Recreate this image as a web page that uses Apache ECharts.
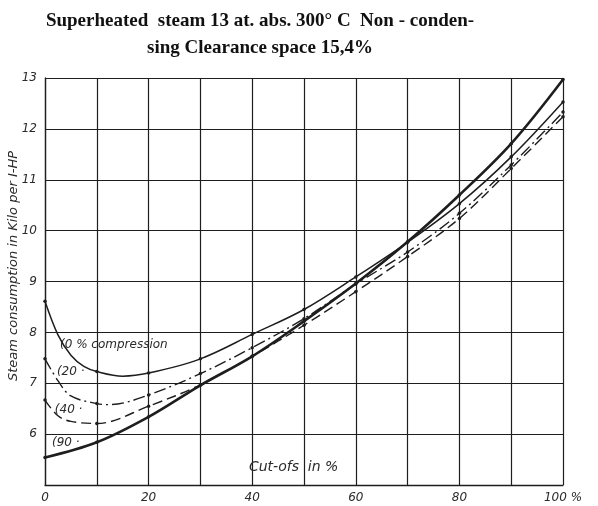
<!DOCTYPE html>
<html>
<head>
<meta charset="utf-8">
<script src="https://cdn.jsdelivr.net/npm/echarts@6/dist/echarts.min.js"></script>
<style>
  html, body { margin: 0; padding: 0; background: #ffffff; }
  #chart { width: 598px; height: 506px; }
</style>
</head>
<body>
<div id="chart"></div>
<script>
// Steam consumption (kg per indicated HP-hour) against cut-off, for four compression ratios
const comp0X  = [0, 2.5, 5, 7.5, 10, 15, 20, 30, 40, 50, 60, 70, 80, 90, 100];
const comp0Y  = [8.61, 7.95, 7.55, 7.33, 7.23, 7.14, 7.20, 7.48, 7.96, 8.45, 9.09, 9.77, 10.53, 11.45, 12.53];
const comp20X = [0, 2.5, 5, 10, 12.5, 20, 30, 40, 50, 60, 70, 80, 90, 100];
const comp20Y = [7.48, 7.05, 6.75, 6.60, 6.58, 6.77, 7.19, 7.70, 8.27, 8.95, 9.58, 10.34, 11.29, 12.33];
const comp40X = [0, 2.5, 5, 10, 20, 30, 40, 50, 60, 70, 80, 90, 100];
const comp40Y = [6.67, 6.36, 6.25, 6.21, 6.55, 6.97, 7.53, 8.14, 8.80, 9.49, 10.24, 11.22, 12.24];
const comp90X = [0, 10, 20, 30, 40, 50, 60, 70, 80, 90, 100];
const comp90Y = [5.54, 5.84, 6.34, 6.96, 7.53, 8.22, 8.96, 9.78, 10.70, 11.71, 12.97];

// Curve captions, anchored in data units
const captionText = ['(0 % compression', '(20 ·', '(40 ·', '(90 ·'];
const captionAt   = [[2.9, 7.75], [2.3, 7.22], [1.9, 6.47], [1.35, 5.83]];

const titleLines = ['Superheated  steam 13 at. abs. 300° C  Non - conden-', 'sing Clearance space 15,4%'];
const yAxisTitle = 'Steam consumption in Kilo per I-HP';
const xAxisTitle = 'Cut-ofs  in %';

const ink = '#1e1e1e';
const hand = { fontFamily: 'DejaVu Sans', fontStyle: 'italic', color: '#2a2a2a' };

function pairs(xs, ys) { return xs.map((x, i) => [x, ys[i]]); }
function dotSize(v) { return v[0] % 10 === 0 ? 3.5 : 0; }

const chart = echarts.init(document.getElementById('chart'));

function curve(name, xs, ys, width, type) {
  return {
    name, type: 'line', data: pairs(xs, ys), smooth: 0.35,
    symbol: 'circle', symbolSize: dotSize, showSymbol: true,
    itemStyle: { color: ink },
    lineStyle: { color: ink, width, type },
    silent: true, animation: false, z: 3
  };
}

chart.setOption({
  backgroundColor: '#ffffff',
  animation: false,
  grid: { left: 45, right: 35, top: 78, bottom: 21 },
  xAxis: {
    type: 'value', min: 0, max: 100, interval: 10,
    axisLine: { show: true, lineStyle: { color: ink, width: 1.3 } },
    axisTick: { show: false },
    splitLine: { show: true, lineStyle: { color: ink, width: 1.2 } },
    axisLabel: {
      ...hand, fontSize: 12, margin: 7,
      formatter: v => v === 100 ? '100 %' : (v % 20 === 0 ? String(v) : '')
    }
  },
  yAxis: {
    type: 'value', min: 5, max: 13, interval: 1,
    axisLine: { show: true, lineStyle: { color: ink, width: 1.3 } },
    axisTick: { show: false },
    splitLine: { show: true, lineStyle: { color: ink, width: 1.2 } },
    axisLabel: { ...hand, fontSize: 12, margin: 8, formatter: v => v === 5 ? '' : String(v) }
  },
  series: [
    curve('0 %', comp0X, comp0Y, 1.5, 'solid'),
    curve('20 %', comp20X, comp20Y, 1.4, [12, 4, 2, 4]),
    curve('40 %', comp40X, comp40Y, 1.4, [10, 5]),
    curve('90 %', comp90X, comp90Y, 2.6, 'solid')
  ]
});

// Titles and captions placed through the grid's coordinate system
const g = [];
titleLines.forEach((t, i) => {
  g.push({
    type: 'text', x: 260, y: 21 + i * 27,
    style: { text: t, fill: '#111', font: 'bold 19px "Liberation Serif"', textAlign: 'center', textVerticalAlign: 'middle' }
  });
});
g.push({
  type: 'text', x: 14, y: 266, rotation: Math.PI / 2,
  style: { text: yAxisTitle, fill: '#2a2a2a', font: 'italic 13px "DejaVu Sans"', textAlign: 'center', textVerticalAlign: 'middle' }
});
const xt = chart.convertToPixel({ gridIndex: 0 }, [48, 5.35]);
g.push({
  type: 'text', x: xt[0], y: xt[1],
  style: { text: xAxisTitle, fill: '#2a2a2a', font: 'italic 14px "DejaVu Sans"', textAlign: 'center', textVerticalAlign: 'middle' }
});
captionText.forEach((t, i) => {
  const p = chart.convertToPixel({ gridIndex: 0 }, captionAt[i]);
  g.push({
    type: 'text', x: p[0], y: p[1],
    style: { text: t, fill: '#2a2a2a', font: 'italic 12px "DejaVu Sans"', textAlign: 'left', textVerticalAlign: 'middle' }
  });
});
chart.setOption({ graphic: g });
</script>
</body>
</html>
